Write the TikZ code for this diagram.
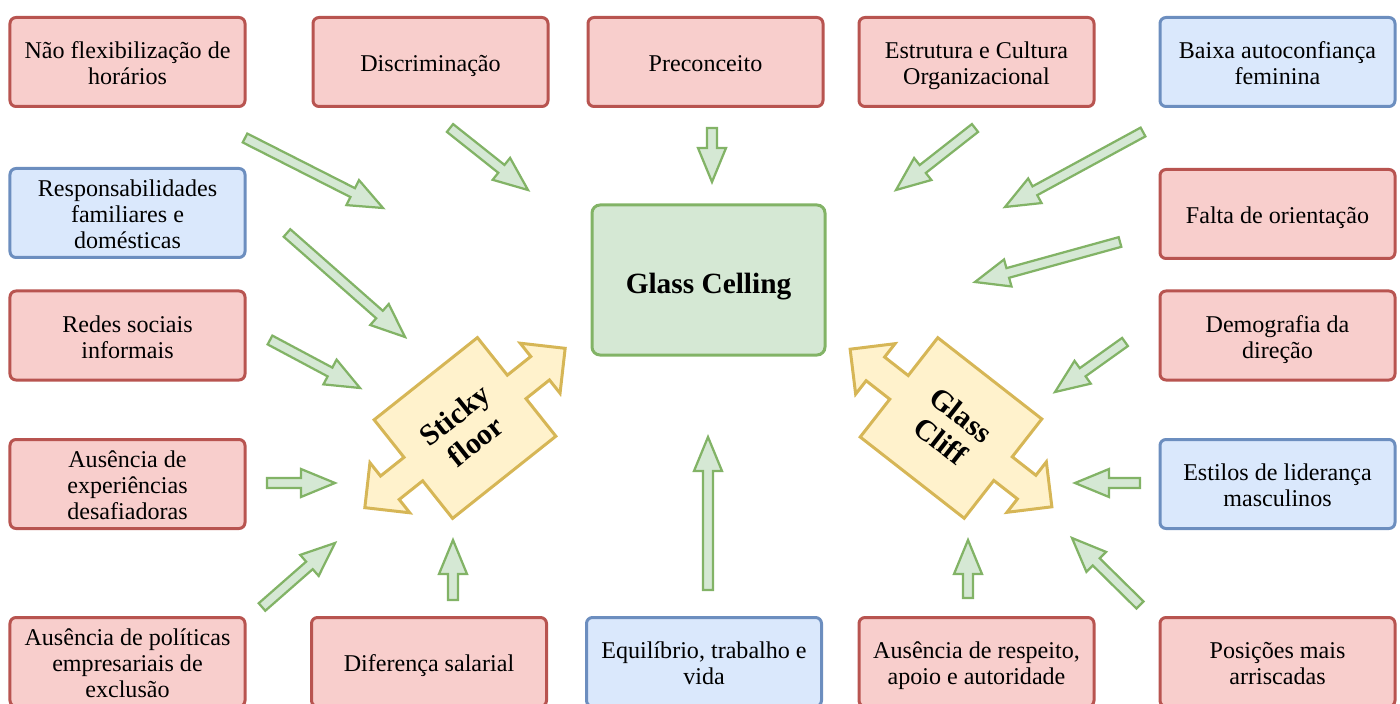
\documentclass[tikz,border=0pt]{standalone}
\usepackage{fontspec}
\setmainfont{Liberation Serif}
\usetikzlibrary{calc}
\definecolor{redfill}{HTML}{F8CECC}
\definecolor{redline}{HTML}{B85450}
\definecolor{bluefill}{HTML}{DAE8FC}
\definecolor{blueline}{HTML}{6C8EBF}
\definecolor{greenfill}{HTML}{D5E8D4}
\definecolor{greenline}{HTML}{82B366}
\definecolor{yellowfill}{HTML}{FFF2CC}
\definecolor{yellowline}{HTML}{D6B656}
\tikzset{
	box/.style={draw, rounded corners=1.2mm, line width=0.6mm, minimum width=47mm, minimum height=17.8mm, inner sep=0pt,
		font=\fontsize{13.7}{14.8}\selectfont},
	redbox/.style={box, draw=redline, fill=redfill},
	bluebox/.style={box, draw=blueline, fill=bluefill},
	greenarrow/.style={draw=greenline, fill=greenfill, line width=0.45mm, line join=miter},
	bigarrow/.style={draw=yellowline, fill=yellowfill, line width=0.6mm, line join=miter},
	bigtext/.style={font=\bfseries\fontsize{17}{19}\selectfont, align=center}
}
\newcommand{\lines}[1]{\raisebox{-2.5pt}[\height][\depth]{\begin{tabular}{@{}c@{}}#1\end{tabular}}}
\newcommand{\garrow}[2]{%
	\coordinate (gh) at ($(#2)!6.8mm!(#1)$);
	\draw[greenarrow] ($(#1)!1mm!90:(#2)$) -- ($(gh)!1mm!-90:(#1)$) -- ($(gh)!2.8mm!-90:(#1)$) -- (#2)
		-- ($(gh)!2.8mm!90:(#1)$) -- ($(gh)!1mm!90:(#1)$) -- ($(#1)!1mm!-90:(#2)$) -- cycle;}
\newcommand{\dblarrow}{(-66,-63) -- (66,-63) -- (66,-15) -- (96,-15) -- (96,-32) -- (128,0) -- (96,32) -- (96,15) -- (66,15) -- (66,63) -- (-66,63) -- (-66,15) -- (-96,15) -- (-96,32) -- (-128,0) -- (-96,-32) -- (-96,-15) -- (-66,-15) -- cycle}

\begin{document}
\begin{tikzpicture}[x=0.2mm, y=-0.2mm]
\useasboundingbox (0,0) rectangle (1400,704);
\clip (0,0) rectangle (1400,704);

\node[redbox] (horarios) at (127.5,62) {\lines{Não flexibilização de\\horários}};
\node[redbox] (discrim) at (430.5,62) {\lines{Discriminação}};
\node[redbox] (preconc) at (705.5,62) {\lines{Preconceito}};
\node[redbox] (cultura) at (976.5,62) {\lines{Estrutura e Cultura\\Organizacional}};
\node[bluebox] (autoconf) at (1277.5,62) {\lines{Baixa autoconfiança\\feminina}};

\node[bluebox] (familia) at (127.5,213) {\lines{Responsabilidades\\familiares e\\domésticas}};
\node[redbox] (redes) at (127.5,335.5) {\lines{Redes sociais\\informais}};
\node[redbox] (experien) at (127.5,484) {\lines{Ausência de\\experiências\\desafiadoras}};
\node[redbox] (politicas) at (127.5,662) {\lines{Ausência de políticas\\empresariais de\\exclusão}};

\node[redbox] (orienta) at (1277.5,214) {\lines{Falta de orientação}};
\node[redbox] (demogr) at (1277.5,335.5) {\lines{Demografia da\\direção}};
\node[bluebox] (estilos) at (1277.5,484) {\lines{Estilos de liderança\\masculinos}};
\node[redbox] (posicoes) at (1277.5,662) {\lines{Posições mais\\arriscadas}};

\node[redbox] (salario) at (429,662) {\lines{Diferença salarial}};
\node[bluebox] (equilib) at (704,662) {\lines{Equilíbrio, trabalho e\\vida}};
\node[redbox] (respeito) at (976.5,662) {\lines{Ausência de respeito,\\apoio e autoridade}};

\node[draw=greenline, fill=greenfill, line width=0.6mm, rounded corners=1.6mm, minimum width=46.6mm, minimum height=30mm,
	font=\bfseries\fontsize{16.7}{19}\selectfont, execute at begin node={\rule{0pt}{19.5pt}}] (ceiling) at (708.5,280) {Glass Celling};

\begin{scope}[shift={(465,428)}, rotate=38.5]
\draw[bigarrow] \dblarrow;
\end{scope}
\node[bigtext, rotate=38.5] (sticky) at (465,428) {Sticky\\floor};

\begin{scope}[shift={(951,428)}, rotate=-38]
\draw[bigarrow] \dblarrow;
\end{scope}
\node[bigtext, rotate=-38] (cliff) at (951,428) {Glass\\Cliff};

\coordinate (t1) at (245,138); \coordinate (h1) at (383,208);
\coordinate (t2) at (450,128); \coordinate (h2) at (528,190);
\coordinate (t3) at (712,128); \coordinate (h3) at (712,182);
\coordinate (t4) at (975,128); \coordinate (h4) at (896,190);
\coordinate (t5) at (1143,132); \coordinate (h5) at (1005,207);
\coordinate (t6) at (1120,242); \coordinate (h6) at (975,282);
\coordinate (t7) at (1125,342); \coordinate (h7) at (1055,392);
\coordinate (t8) at (1140,483); \coordinate (h8) at (1075,483);
\coordinate (t9) at (1140,605); \coordinate (h9) at (1072,538);
\coordinate (t10) at (968,598); \coordinate (h10) at (968,540);
\coordinate (t11) at (708,590); \coordinate (h11) at (708,437);
\coordinate (t12) at (453,600); \coordinate (h12) at (453,540);
\coordinate (t13) at (262,607); \coordinate (h13) at (335,543);
\coordinate (t14) at (267,483); \coordinate (h14) at (335,483);
\coordinate (t15) at (270,340); \coordinate (h15) at (360,388);
\coordinate (t16) at (287,233); \coordinate (h16) at (405,337);

\garrow{t1}{h1} \garrow{t2}{h2} \garrow{t3}{h3} \garrow{t4}{h4}
\garrow{t5}{h5} \garrow{t6}{h6} \garrow{t7}{h7} \garrow{t8}{h8}
\garrow{t9}{h9} \garrow{t10}{h10} \garrow{t11}{h11} \garrow{t12}{h12}
\garrow{t13}{h13} \garrow{t14}{h14} \garrow{t15}{h15} \garrow{t16}{h16}
\end{tikzpicture}
\end{document}
